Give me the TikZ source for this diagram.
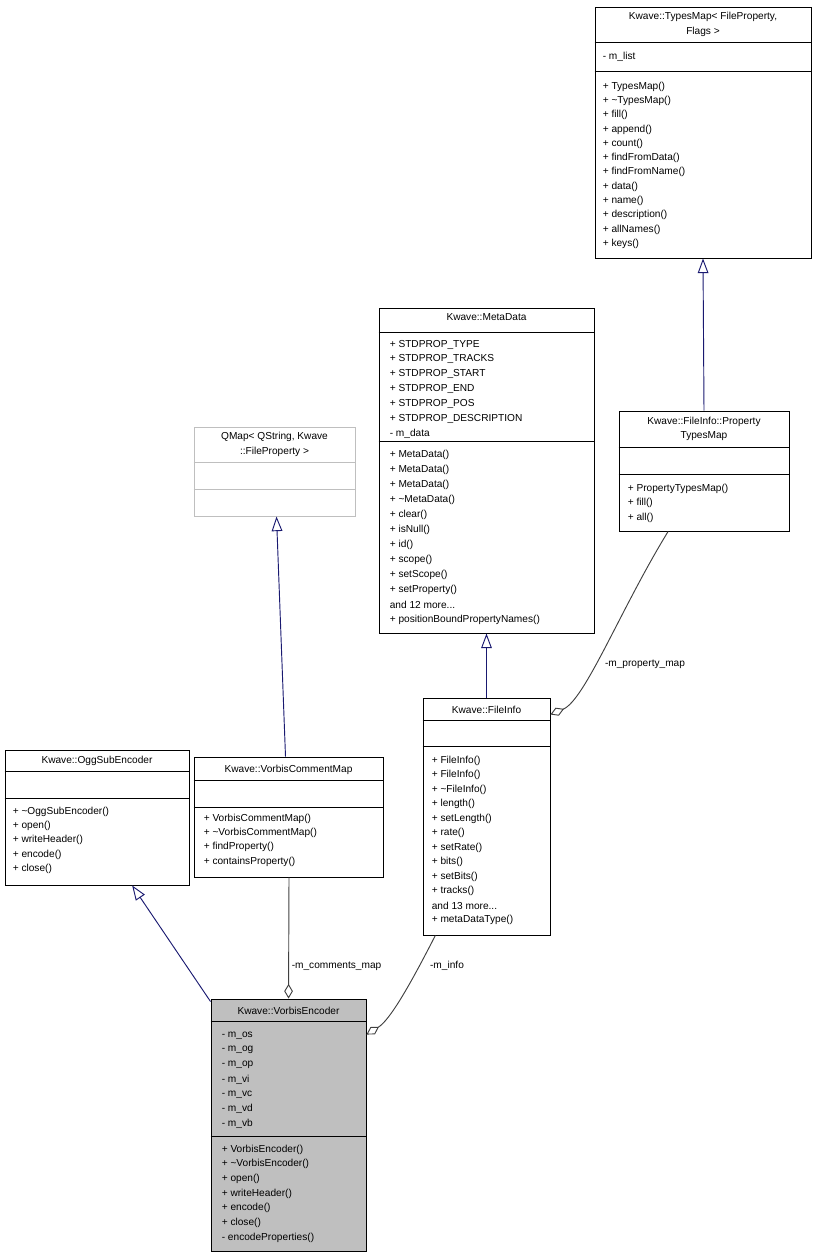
\documentclass[tikz,border=0pt]{standalone}
\usepackage{fontspec}
\setmainfont{Liberation Sans}
\usetikzlibrary{calc,fit,arrows.meta}
\definecolor{inh}{HTML}{191970}
\definecolor{use}{HTML}{404040}
\tikzset{
  box/.style={draw=black, inner sep=0pt, line width=0.7pt},
  mem/.style={anchor=west, inner sep=0pt, font=\fontsize{7.6}{9}\selectfont},
  ttl/.style={anchor=center, inner sep=0pt, font=\fontsize{7.6}{9}\selectfont},
  isa/.style={draw=inh, line width=0.7pt, -{Triangle[open,length=11pt,width=8pt]}},
  has/.style={draw=use, line width=0.7pt, -{Diamond[open,length=11pt,width=6.5pt]}},
  lbl/.style={inner sep=0pt, font=\fontsize{7.6}{9}\selectfont}
}
\begin{document}
\begin{tikzpicture}[x=0.75pt,y=-0.75pt]
  \useasboundingbox (0,0) rectangle (818,1257);
  % Kwave::TypesMap
  \node (tm) [box, fit={(595,7) (811,258)}] {};
  \node[ttl] at ($(tm.north)+(0,10)$) {Kwave::TypesMap< FileProperty,};
  \node[ttl] at ($(tm.north)+(0,25)$) {Flags >};
  \draw ($(tm.north west)+(0,36)$) -- ($(tm.north east)+(0,36)$);
  \node[mem] at ($(tm.north west)+(8,50)$) {- m\_list};
  \draw ($(tm.north west)+(0,65)$) -- ($(tm.north east)+(0,65)$);
  \foreach \t [count=\i from 0] in {+ TypesMap(),+ \textasciitilde TypesMap(),+ fill(),+ append(),+ count(),+ findFromData(),+ findFromName(),+ data(),+ name(),+ description(),+ allNames(),+ keys()}
    \node[mem] at ($(tm.north west)+(8,80+14.3*\i)$) {\t};
  % Kwave::MetaData
  \node (md) [box, fit={(379,308) (594,633)}] {};
  \node[ttl] at ($(md.north)+(0,10)$) {Kwave::MetaData};
  \draw ($(md.north west)+(0,25)$) -- ($(md.north east)+(0,25)$);
  \foreach \t [count=\i from 0] in {+ STDPROP\_TYPE,+ STDPROP\_TRACKS,+ STDPROP\_START,+ STDPROP\_END,+ STDPROP\_POS,+ STDPROP\_DESCRIPTION,- m\_data}
    \node[mem] at ($(md.north west)+(11,37+14.8*\i)$) {\t};
  \draw ($(md.north west)+(0,134)$) -- ($(md.north east)+(0,134)$);
  \foreach \t [count=\i from 0] in {+ MetaData(),+ MetaData(),+ MetaData(),+ \textasciitilde MetaData(),+ clear(),+ isNull(),+ id(),+ scope(),+ setScope(),+ setProperty(),and 12 more.\kern0pt.\kern0pt.,+ positionBoundPropertyNames()}
    \node[mem] at ($(md.north west)+(11,147+15*\i)$) {\t};
  % QMap
  \node (qm) [box, draw=black!25, fit={(194,427) (355,516)}] {};
  \node[ttl] at ($(qm.north)+(0,10)$) {QMap< QString, Kwave};
  \node[ttl] at ($(qm.north)+(0,25)$) {::FileProperty >};
  \draw[black!25, line width=0.7pt] ($(qm.north west)+(0,36)$) -- ($(qm.north east)+(0,36)$);
  \draw[black!25, line width=0.7pt] ($(qm.north west)+(0,63)$) -- ($(qm.north east)+(0,63)$);
  % Kwave::FileInfo::PropertyTypesMap
  \node (ptm) [box, fit={(619,411) (789,531)}] {};
  \node[ttl] at ($(ptm.north)+(0,11)$) {Kwave::FileInfo::Property};
  \node[ttl] at ($(ptm.north)+(0,26)$) {TypesMap};
  \draw ($(ptm.north west)+(0,37)$) -- ($(ptm.north east)+(0,37)$);
  \draw ($(ptm.north west)+(0,64)$) -- ($(ptm.north east)+(0,64)$);
  \foreach \t [count=\i from 0] in {+ PropertyTypesMap(),+ fill(),+ all()}
    \node[mem] at ($(ptm.north west)+(9,78+14.5*\i)$) {\t};
  % Kwave::FileInfo
  \node (fi) [box, fit={(423,698) (550,935)}] {};
  \node[ttl] at ($(fi.north)+(0,12)$) {Kwave::FileInfo};
  \draw ($(fi.north west)+(0,23)$) -- ($(fi.north east)+(0,23)$);
  \draw ($(fi.north west)+(0,49)$) -- ($(fi.north east)+(0,49)$);
  \foreach \t [count=\i from 0] in {+ FileInfo(),+ FileInfo(),+ \textasciitilde FileInfo(),+ length(),+ setLength(),+ rate(),+ setRate(),+ bits(),+ setBits(),+ tracks(),and 13 more.\kern0pt.\kern0pt.,+ metaDataType()}
    \node[mem] at ($(fi.north west)+(9,63+14.5*\i)$) {\t};
  % Kwave::OggSubEncoder
  \node (ogg) [box, fit={(5,750) (189,885)}] {};
  \node[ttl] at ($(ogg.north)+(0,11)$) {Kwave::OggSubEncoder};
  \draw ($(ogg.north west)+(0,22)$) -- ($(ogg.north east)+(0,22)$);
  \draw ($(ogg.north west)+(0,49)$) -- ($(ogg.north east)+(0,49)$);
  \foreach \t [count=\i from 0] in {+ \textasciitilde OggSubEncoder(),+ open(),+ writeHeader(),+ encode(),+ close()}
    \node[mem] at ($(ogg.north west)+(8,62+14.4*\i)$) {\t};
  % Kwave::VorbisCommentMap
  \node (vcm) [box, fit={(194,757) (383,877)}] {};
  \node[ttl] at ($(vcm.north)+(0,13)$) {Kwave::VorbisCommentMap};
  \draw ($(vcm.north west)+(0,24)$) -- ($(vcm.north east)+(0,24)$);
  \draw ($(vcm.north west)+(0,51)$) -- ($(vcm.north east)+(0,51)$);
  \foreach \t [count=\i from 0] in {+ VorbisCommentMap(),+ \textasciitilde VorbisCommentMap(),+ findProperty(),+ containsProperty()}
    \node[mem] at ($(vcm.north west)+(10,62+14.4*\i)$) {\t};
  % Kwave::VorbisEncoder
  \node (enc) [box, fill=black!25, fit={(211,999) (366,1251)}] {};
  \node[ttl] at ($(enc.north)+(0,12)$) {Kwave::VorbisEncoder};
  \draw ($(enc.north west)+(0,23)$) -- ($(enc.north east)+(0,23)$);
  \foreach \t [count=\i from 0] in {- m\_os,- m\_og,- m\_op,- m\_vi,- m\_vc,- m\_vd,- m\_vb}
    \node[mem] at ($(enc.north west)+(11,37+14.7*\i)$) {\t};
  \draw ($(enc.north west)+(0,138)$) -- ($(enc.north east)+(0,138)$);
  \foreach \t [count=\i from 0] in {+ VorbisEncoder(),+ \textasciitilde VorbisEncoder(),+ open(),+ writeHeader(),+ encode(),+ close(),- encodeProperties()}
    \node[mem] at ($(enc.north west)+(11,151+14.7*\i)$) {\t};
  % inheritance
  \draw[isa] (ptm.north) -- (tm.south);
  \draw[isa] (fi.north) -- (md.south);
  \draw[isa] ($(vcm.north)+(-3,0)$) -- ($(qm.south)+(2,0)$);
  \draw[isa] ($(enc.north west)+(0,3)$) -- ($(ogg.south west)!0.69!(ogg.south east)$);
  % members
  \draw[has] ($(vcm.south)+(0.5,0)$) -- ($(enc.north west)+(78,0)$)
    node[lbl, pos=0.73, anchor=west, xshift=2pt] {-m\_comments\_map};
  \draw[has] ($(fi.south west)!0.1!(fi.south east)$) .. controls (410,985) and (390,1020) .. ($(enc.north east)+(0,36)$);
  \node[lbl] at (447,966) {-m\_info};
  \draw[has] ($(ptm.south west)!0.29!(ptm.south east)$) .. controls (620,610) and (585,700) .. ($(fi.north east)+(0,17)$);
  \node[lbl] at (645,664) {-m\_property\_map};
\end{tikzpicture}
\end{document}
